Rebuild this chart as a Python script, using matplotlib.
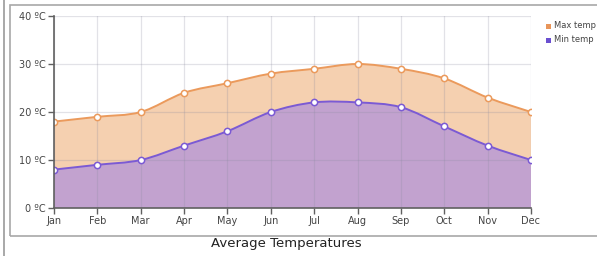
import matplotlib
matplotlib.use("Agg")
import matplotlib.pyplot as plt
import numpy as np
from matplotlib.path import Path
from matplotlib.patches import PathPatch, Rectangle
from matplotlib.lines import Line2D

months = ["Jan", "Feb", "Mar", "Apr", "May", "Jun",
          "Jul", "Aug", "Sep", "Oct", "Nov", "Dec"]
max_temp = [18, 19, 20, 24, 26, 28, 29, 30, 29, 27, 23, 20]
min_temp = [8, 9, 10, 13, 16, 20, 22, 22, 21, 17, 13, 10]
y_ticks = [0, 10, 20, 30, 40]
legend_labels = ["Max temp", "Min temp"]

MAX_LINE = "#eb9a5c"
MAX_FILL = "#f5d0b0"
MIN_LINE = "#7b5ad4"
MIN_FILL = "#c2a2cf"


def smooth_verts(xs, ys, tension=0.5):
    # Catmull-Rom -> cubic bezier segments, rendered by matplotlib Path
    pts = np.column_stack([xs, ys]).astype(float)
    n = len(pts)
    verts = [tuple(pts[0])]
    codes = [Path.MOVETO]
    for i in range(n - 1):
        p0 = pts[i - 1] if i > 0 else pts[i]
        p1 = pts[i]
        p2 = pts[i + 1]
        p3 = pts[i + 2] if i + 2 < n else pts[i + 1]
        c1 = p1 + (p2 - p0) * tension / 3
        c2 = p2 - (p3 - p1) * tension / 3
        verts += [tuple(c1), tuple(c2), tuple(p2)]
        codes += [Path.CURVE4] * 3
    return verts, codes


def area_path(xs, ys):
    verts, codes = smooth_verts(xs, ys)
    verts = verts + [(xs[-1], 0), (xs[0], 0), (xs[0], 0)]
    codes = codes + [Path.LINETO, Path.LINETO, Path.CLOSEPOLY]
    return Path(verts, codes)


fig = plt.figure(figsize=(5.97, 2.56), dpi=100)
fig.patch.set_facecolor("white")

# outer frames
fig.add_artist(Line2D([4 / 597, 4 / 597], [0, 1], color="#9a9a9a", lw=1.2))
fig.add_artist(Rectangle((10 / 597, 1 - 236 / 256), 600 / 597, 231 / 256,
                         fill=False, edgecolor="#a8a8a8", lw=1.2,
                         transform=fig.transFigure))

ax = fig.add_axes([54 / 597, 1 - 208 / 256, 477 / 597, 192 / 256])
x = np.arange(len(months))

ax.add_patch(PathPatch(area_path(x, max_temp), facecolor=MAX_FILL,
                       edgecolor="none", zorder=1))
ax.add_patch(PathPatch(area_path(x, min_temp), facecolor=MIN_FILL,
                       edgecolor="none", zorder=1.1))

for xi in x:
    ax.axvline(xi, color="#8c8ca0", alpha=0.25, lw=0.9, zorder=1.5)
for yt in y_ticks[1:]:
    ax.axhline(yt, color="#8c8ca0", alpha=0.25, lw=0.9, zorder=1.5)

for vals, col in [(max_temp, MAX_LINE), (min_temp, MIN_LINE)]:
    v, c = smooth_verts(x, vals)
    ax.add_patch(PathPatch(Path(v, c), facecolor="none", edgecolor=col,
                           lw=1.4, zorder=3))
    ax.plot(x, vals, linestyle="none", marker="o", ms=4.5,
            markerfacecolor="white", markeredgecolor=col, mew=1.1, zorder=4)

ax.set_xlim(0, 11)
ax.set_ylim(0, 40)
ax.set_xticks(x)
ax.set_xticklabels(months)
ax.set_yticks(y_ticks)
ax.set_yticklabels([f"{t} \u00baC" for t in y_ticks])
for side in ["top", "right"]:
    ax.spines[side].set_visible(False)
for side in ["left", "bottom"]:
    ax.spines[side].set_color("#606060")
    ax.spines[side].set_linewidth(1.2)
    ax.spines[side].set_zorder(5)
ax.tick_params(colors="#606060", labelcolor="#444444", labelsize=7,
               length=4, width=1, pad=2)
ax.set_facecolor("none")

# legend
for i, (lab, col) in enumerate(zip(legend_labels, ["#e8955a", "#6a4fd0"])):
    yy = 1 - (26 + i * 14) / 256
    fig.add_artist(Rectangle((546 / 597, yy - 2.5 / 256), 5 / 597, 5 / 256,
                             facecolor=col, edgecolor="none",
                             transform=fig.transFigure))
    fig.text(554 / 597, yy, lab, fontsize=6, color="#444444",
             va="center", ha="left")

fig.text(286 / 597, 1 - 244 / 256, "Average Temperatures", fontsize=9.5,
         color="#222222", ha="center", va="center")

fig.savefig("out.png", dpi=100)
